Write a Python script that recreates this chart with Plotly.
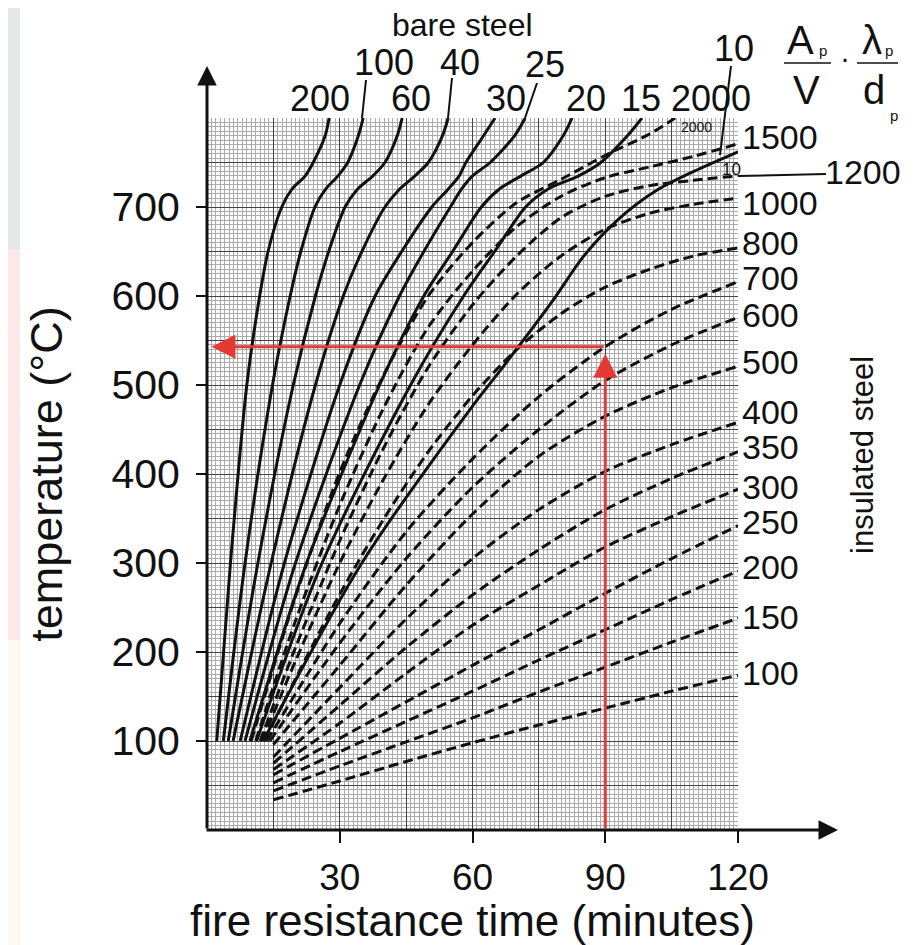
import plotly.graph_objects as go

# ---------------- data ----------------
x_tick_vals = [30, 60, 90, 120]
y_tick_vals = [100, 200, 300, 400, 500, 600, 700]

# bare steel curves (solid), section factor Ap/V
bare_labels = ["200", "100", "60", "40", "30", "25", "20", "15", "10"]
bare_temps = [100, 300, 500, 600, 650, 700, 720, 735, 750, 780, 800]
bare_200 = [2.2, 5.3, 9.0, 11.9, 13.8, 16.9, 19.2, 22.2, 24.0, 26.7, 27.6]
bare_100 = [3.7, 8.6, 14.8, 18.8, 21.2, 24.4, 26.8, 29.6, 31.8, 34.2, 35.3]
bare_60 = [4.8, 11.5, 19.5, 24.5, 27.5, 31.2, 34.0, 37.5, 40.2, 43.0, 44.1]
bare_40 = [5.9, 14.5, 24.5, 30.8, 35.0, 40.2, 43.5, 47.0, 50.0, 53.2, 54.5]
bare_30 = [7.5, 17.5, 30.0, 38.0, 44.0, 50.8, 54.5, 57.0, 58.5, 62.5, 65.1]
bare_25 = [8.6, 20.0, 34.5, 43.5, 49.0, 55.0, 57.5, 60.0, 64.0, 69.5, 71.9]
bare_20 = [9.7, 22.5, 39.0, 49.0, 55.5, 62.0, 66.0, 71.0, 76.0, 80.5, 82.5]
bare_15 = [11.2, 26.0, 46.0, 58.0, 65.0, 72.0, 77.0, 84.0, 89.0, 95.0, 98.3]
bare_10_t = [12.7, 35.0, 59.5, 67.0, 78.3, 85.0, 92.7, 101.7, 110.0, 120.0]
bare_10_T = [100, 300, 473, 521, 596, 644, 685, 719, 740, 762]

# insulated steel curves (dashed), (Ap/V)*(lambda_p/d_p)
ins_times = [15, 30, 45, 60, 75, 90, 105, 120]
ins_100 = [34, 55, 77, 98, 118, 137, 156, 174]
ins_150 = [44, 72, 99, 126, 155, 183, 211, 238]
ins_200 = [53, 88, 122, 156, 191, 225, 259, 291]
ins_250 = [62, 103, 144, 185, 225, 266, 305, 342]
ins_300 = [68, 120, 176, 230, 275, 318, 352, 383]
ins_350 = [75, 140, 205, 264, 315, 360, 395, 425]
ins_400 = [82, 160, 237, 305, 360, 403, 433, 458]
ins_500 = [96, 185, 275, 355, 420, 465, 497, 521]
ins_600_t = [14.2, 30, 45, 60, 75, 90, 105, 120]
ins_600 = [100, 210, 305, 385, 450, 505, 545, 576]
ins_700_t = [13.5, 30, 45, 60, 75, 90, 105, 120]
ins_700 = [100, 232, 335, 417, 487, 543, 585, 616]
ins_800_t = [13.0, 20, 30, 40, 50, 60, 70, 80, 90, 100, 110, 120]
ins_800 = [100, 170, 265, 350, 425, 488, 540, 580, 610, 630, 645, 654]
ins_1000_t = [12.5, 20, 30, 40, 50, 60, 70, 80, 90, 100, 110, 120]
ins_1000 = [100, 190, 300, 395, 478, 545, 602, 645, 675, 693, 703, 710]
ins_1200_t = [12.0, 20, 30, 40, 50, 60, 70, 80, 90, 100, 110, 120]
ins_1200 = [100, 205, 325, 430, 520, 590, 645, 688, 712, 724, 730, 735]
ins_1500_t = [11.0, 20, 30, 40, 50, 60, 70, 80, 90, 100, 110, 120]
ins_1500 = [100, 235, 365, 475, 565, 628, 678, 712, 733, 745, 757, 771]
ins_2000_t = [10.0, 20, 30, 40, 50, 60, 70, 80, 90, 100, 105.8]
ins_2000 = [100, 262, 402, 512, 600, 660, 705, 731, 758, 782, 800]

ins_labels = ["2000", "1500", "1200", "1000", "800", "700", "600", "500",
              "400", "350", "300", "250", "200", "150", "100"]

# worked example (red arrows)
example_time = 90
example_temp = 543

# ---------------- figure ----------------
OFF = 8                      # page body margin
W, H = 916 - OFF, 945 - OFF
ML, MR, MT, MB = 207 - OFF, 178, 118 - OFF, 115
PW, PH = W - ML - MR, H - MT - MB


def px(x):
    """reference-screen x pixel -> paper coordinate"""
    return (x - OFF - ML) / PW


def py(y):
    """reference-screen y pixel -> paper coordinate"""
    return (H - MB - (y - OFF)) / PH


FONT = "Arial, Liberation Sans, sans-serif"
BLACK = "#111111"
RED = "#e53935"

fig = go.Figure()

bare_sets = [
    (bare_200, bare_temps), (bare_100, bare_temps), (bare_60, bare_temps),
    (bare_40, bare_temps), (bare_30, bare_temps), (bare_25, bare_temps),
    (bare_20, bare_temps), (bare_15, bare_temps), (bare_10_t, bare_10_T),
]
for lab, (tt, TT) in zip(bare_labels, bare_sets):
    fig.add_trace(go.Scatter(x=tt, y=TT, mode="lines", name="bare " + lab,
                             line=dict(color=BLACK, width=3, shape="spline", smoothing=0.8),
                             showlegend=False, hoverinfo="skip"))

ins_sets = [
    (ins_2000_t, ins_2000), (ins_1500_t, ins_1500), (ins_1200_t, ins_1200),
    (ins_1000_t, ins_1000), (ins_800_t, ins_800), (ins_700_t, ins_700),
    (ins_600_t, ins_600), (ins_times, ins_500), (ins_times, ins_400),
    (ins_times, ins_350), (ins_times, ins_300), (ins_times, ins_250),
    (ins_times, ins_200), (ins_times, ins_150), (ins_times, ins_100),
]
for lab, (tt, TT) in zip(ins_labels, ins_sets):
    fig.add_trace(go.Scatter(x=tt, y=TT, mode="lines", name="insulated " + lab,
                             line=dict(color=BLACK, width=3, dash="10px,5px",
                                       shape="spline", smoothing=0.8),
                             showlegend=False, hoverinfo="skip"))

# dummy trace for label axes
fig.add_trace(go.Scatter(x=[None], y=[None], xaxis="x2", yaxis="y2",
                         showlegend=False, hoverinfo="skip"))

fig.update_layout(
    width=W, height=H,
    margin=dict(l=ML, r=MR, t=MT, b=MB),
    paper_bgcolor="white", plot_bgcolor="white",
    font=dict(family=FONT, color=BLACK),
    xaxis=dict(range=[0, 120], dtick=15, tick0=0, showticklabels=False,
               showgrid=True, gridcolor="#444444", gridwidth=1,
               zeroline=False, showline=False, ticks="",
               minor=dict(dtick=1, showgrid=True, gridcolor="#ababab",
                          gridwidth=1)),
    yaxis=dict(range=[0, 800], dtick=50, tick0=0, showticklabels=False,
               showgrid=True, gridcolor="#444444", gridwidth=1,
               zeroline=False, showline=False, ticks="",
               minor=dict(dtick=5, showgrid=True, gridcolor="#ababab",
                          gridwidth=1)),
    xaxis2=dict(range=[0, 120], overlaying="x", anchor="y2", side="bottom",
                tickmode="array", tickvals=x_tick_vals,
                ticks="outside", ticklen=12, tickwidth=2, tickcolor=BLACK,
                ticklabelstandoff=3,
                tickfont=dict(size=37, family=FONT, color=BLACK),
                showgrid=False, zeroline=False, showline=False,
                title=dict(text="fire resistance time (minutes)",
                           font=dict(size=44, family=FONT, color=BLACK), standoff=0)),
    yaxis2=dict(range=[0, 800], overlaying="y", anchor="x2", side="left",
                tickmode="array", tickvals=y_tick_vals,
                ticks="outside", ticklen=10, tickwidth=2, tickcolor=BLACK,
                ticklabelstandoff=8,
                tickfont=dict(size=41, family=FONT, color=BLACK),
                showgrid=False, zeroline=False, showline=False,
                title=dict(text="temperature (°C)",
                           font=dict(size=45, family=FONT, color=BLACK), standoff=34)),
)

ann = []
shapes = []

# axes with arrows
ann.append(dict(xref="paper", yref="paper", x=px(207), y=py(66), ax=0, ay=764,
                text="", showarrow=True,
                arrowhead=2, arrowsize=1.3, arrowwidth=3, arrowcolor=BLACK))
ann.append(dict(xref="paper", yref="paper", x=px(838), y=py(830), ax=-633, ay=0,
                text="", showarrow=True,
                arrowhead=2, arrowsize=1.3, arrowwidth=3, arrowcolor=BLACK))

# red worked example arrows
ann.append(dict(xref="x", yref="y", axref="x", ayref="y",
                x=example_time, y=example_temp - 8, ax=example_time, ay=0,
                text="", showarrow=True, arrowhead=2, arrowsize=1.6,
                arrowwidth=3, arrowcolor=RED))
ann.append(dict(xref="x", yref="y", axref="x", ayref="y",
                x=1.0, y=example_temp, ax=example_time, ay=example_temp,
                text="", showarrow=True, arrowhead=2, arrowsize=1.6,
                arrowwidth=3, arrowcolor=RED))


def label(text, x, y, size=34, xanchor="center", yanchor="middle", angle=0):
    ann.append(dict(xref="paper", yref="paper", x=px(x), y=py(y), text=text,
                    showarrow=False, xanchor=xanchor, yanchor=yanchor,
                    textangle=angle,
                    font=dict(size=size, family=FONT, color=BLACK)))


def seg(x0, y0, x1, y1, w=2):
    shapes.append(dict(type="line", xref="paper", yref="paper",
                       x0=px(x0), y0=py(y0), x1=px(x1), y1=py(y1),
                       line=dict(color=BLACK, width=w)))


# top labels (bare steel)
label("bare steel", 462, 25, size=32)
label("100", 384, 62, size=36)
label("40", 460, 62, size=36)
label("25", 545, 64, size=36)
label("200", 320, 99, size=36)
label("60", 411, 99, size=36)
label("30", 506, 99, size=36)
label("20", 586, 99, size=36)
label("15", 641, 99, size=36)
label(ins_labels[0], 711, 99, size=36)
label("10", 734, 48, size=36)
seg(366, 80, 362, 118)
seg(452, 78, 448, 118)
seg(537, 83, 525, 118)
seg(731, 66, 720, 155)

# formula
label("A", 800, 40, size=40)
label("p", 823, 50, size=15)
seg(784, 63, 831, 63, 1.5)
label("V", 806, 90, size=40)
label("·", 845, 58, size=30)
label("λ", 872, 40, size=40)
label("p", 889, 50, size=15)
seg(857, 63, 898, 63, 1.5)
label("d", 874, 90, size=40)
label("p", 894, 116, size=15)

# small in-plot labels
label("2000", 696, 127, size=14)
label("10", 731, 170, size=17)

# right labels (insulated steel)
right_y = [None, 137, 172, 203, 243, 278, 315, 362, 412, 447, 487, 522, 567, 617, 673]
for lab, yy in zip(ins_labels, right_y):
    if yy is None:
        continue
    if lab == "1200":
        label(lab, 823, yy, size=34, xanchor="left")
        seg(738, 176, 826, 174, 2)
    else:
        label(lab, 740, yy, size=34, xanchor="left")

label("insulated steel", 862, 455, size=31, angle=-90)

# faint left strip like in the reference
strip = [(945, 0, "#fdf9ee"), (640, 250, "#fce8e8"), (250, 0, "#e6e8ea")]
for y0, y1, col in strip:
    shapes.append(dict(type="rect", xref="paper", yref="paper", x0=px(0), x1=px(20),
                       y0=py(y0), y1=py(y1), fillcolor=col, line=dict(width=0),
                       layer="below"))
shapes.append(dict(type="rect", xref="paper", yref="paper", x0=px(0), x1=px(916),
                   y0=py(5), y1=py(0), fillcolor="#e6e8ea", line=dict(width=0),
                   layer="below"))

fig.update_layout(annotations=ann, shapes=shapes)
fig.write_html("out.html")
